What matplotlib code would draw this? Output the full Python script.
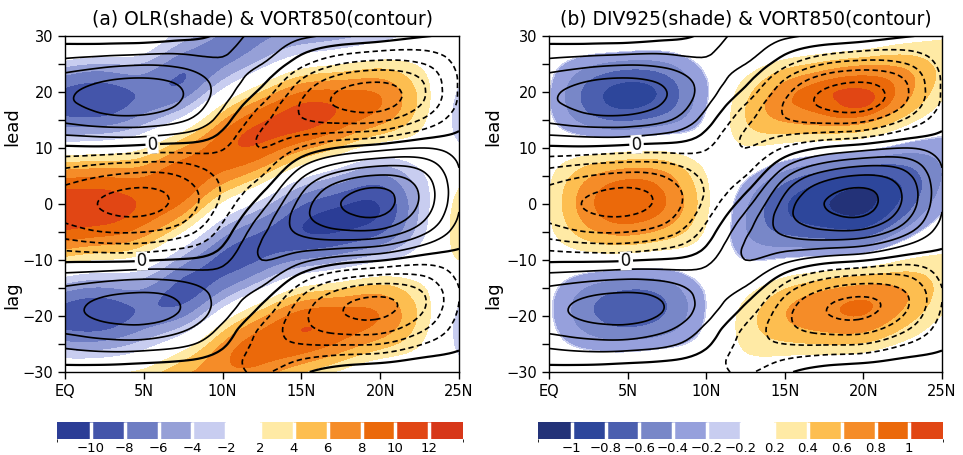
import numpy as np
import matplotlib
matplotlib.use('Agg')
import matplotlib.pyplot as plt
import matplotlib.tri as mtri
from matplotlib.colors import ListedColormap, BoundaryNorm
from matplotlib.cm import ScalarMappable

# grid: latitude (EQ..25N) and lag/lead days (-30..30)
lat = [0, 2.5, 5, 7.5, 10, 12.5, 15, 17.5, 20, 22.5, 25]
lag = [-30, -27.5, -25, -22.5, -20, -17.5, -15, -12.5, -10, -7.5, -5, -2.5, 0,
       2.5, 5, 7.5, 10, 12.5, 15, 17.5, 20, 22.5, 25, 27.5, 30]

# VORT850 anomaly x10 (rows: lag -30..30, cols: EQ..25N)
vort_x10 = [
    [-4, -5, -6, -7, -7, -11, -2, 5, 8, 9, 4],
    [4, 5, 4, 2, -4, -14, -11, -7, -5, 0, 2],
    [13, 16, 16, 12, 2, -14, -20, -21, -20, -11, -2],
    [22, 26, 27, 21, 7, -12, -26, -33, -33, -22, -5],
    [26, 32, 33, 28, 13, -6, -27, -39, -41, -30, -8],
    [26, 32, 34, 29, 16, 1, -23, -38, -42, -33, -10],
    [21, 25, 27, 24, 16, 9, -14, -29, -34, -29, -10],
    [11, 13, 15, 14, 13, 16, -1, -14, -19, -19, -7],
    [-2, -2, -1, 1, 7, 20, 13, 5, 1, -5, -4],
    [-14, -17, -17, -12, 0, 21, 24, 23, 20, 10, 1],
    [-25, -30, -30, -24, -6, 18, 32, 38, 37, 24, 5],
    [-32, -38, -39, -32, -12, 13, 36, 47, 49, 34, 9],
    [-34, -41, -43, -36, -17, 6, 34, 50, 53, 39, 11],
    [-32, -38, -41, -35, -19, -2, 28, 46, 51, 39, 12],
    [-25, -30, -33, -29, -18, -10, 18, 35, 41, 34, 11],
    [-15, -18, -20, -19, -15, -16, 5, 19, 25, 24, 9],
    [-2, -2, -4, -5, -9, -20, -9, 1, 6, 10, 5],
    [11, 13, 13, 9, -2, -21, -21, -18, -15, -6, 1],
    [22, 26, 26, 21, 5, -17, -29, -33, -32, -20, -4],
    [28, 33, 35, 28, 11, -11, -31, -41, -43, -30, -8],
    [28, 34, 36, 30, 15, -3, -27, -41, -44, -33, -9],
    [23, 28, 30, 26, 15, 4, -19, -33, -37, -30, -9],
    [14, 17, 19, 17, 12, 10, -7, -20, -24, -21, -7],
    [4, 5, 6, 7, 8, 14, 3, -5, -9, -10, -5],
    [-5, -6, -5, -3, 3, 14, 12, 8, 6, 1, -1],
]

# OLR anomaly x10 (rows: lag -30..30, cols: EQ..25N)
olr_x10 = [
    [12, 14, 26, 55, 74, 70, 42, 15, -9, -4, -9],
    [-22, -20, -3, 34, 74, 86, 72, 47, 21, 8, -19],
    [-55, -54, -33, 3, 61, 91, 93, 75, 50, 21, -27],
    [-80, -81, -60, -32, 35, 80, 100, 90, 71, 31, -30],
    [-89, -93, -76, -63, 0, 55, 89, 90, 79, 36, -28],
    [-79, -86, -76, -83, -36, 18, 61, 70, 70, 33, -19],
    [-52, -62, -60, -88, -66, -22, 22, 36, 47, 24, -7],
    [-13, -25, -32, -76, -83, -56, -22, -5, 12, 10, 7],
    [30, 18, 3, -51, -86, -79, -60, -46, -25, -5, 20],
    [68, 57, 38, -18, -74, -87, -87, -79, -59, -20, 29],
    [97, 88, 68, 18, -50, -81, -99, -100, -84, -32, 34],
    [113, 107, 88, 51, -19, -61, -96, -106, -98, -38, 34],
    [114, 111, 97, 76, 14, -32, -78, -98, -99, -40, 30],
    [100, 100, 93, 91, 46, 2, -50, -76, -87, -36, 21],
    [74, 77, 78, 94, 73, 38, -13, -44, -64, -27, 9],
    [38, 42, 51, 83, 89, 71, 28, -6, -32, -14, -4],
    [-4, 1, 17, 60, 93, 94, 66, 35, 4, 1, -16],
    [-44, -40, -19, 26, 82, 104, 95, 69, 40, 16, -27],
    [-75, -74, -50, -12, 57, 97, 108, 92, 67, 28, -32],
    [-90, -92, -71, -47, 23, 75, 102, 97, 80, 35, -31],
    [-86, -92, -77, -72, -14, 41, 79, 83, 77, 35, -25],
    [-65, -73, -66, -81, -45, 3, 44, 54, 58, 28, -14],
    [-32, -42, -44, -75, -65, -31, 5, 18, 29, 17, -1],
    [3, -6, -14, -56, -71, -54, -30, -18, -3, 3, 10],
    [0, -8, -12, -30, -64, -64, -55, -47, -32, -9, 19],
]

# DIV925 anomaly x100 (rows: lag -30..30, cols: EQ..25N)
div_x100 = [
    [2, 9, 14, 13, 4, 6, -3, -10, -10, -12, -10],
    [-2, -8, -9, -5, -2, 16, 16, 14, 9, -7, -14],
    [-7, -28, -34, -26, -8, 24, 36, 40, 37, 15, -5],
    [-12, -45, -57, -46, -14, 29, 52, 62, 63, 37, 6],
    [-15, -55, -71, -58, -18, 29, 59, 74, 79, 54, 19],
    [-15, -55, -72, -60, -19, 22, 54, 72, 81, 63, 28],
    [-12, -43, -58, -50, -16, 10, 38, 55, 65, 59, 33],
    [-6, -22, -31, -29, -9, -5, 13, 26, 36, 43, 31],
    [1, 4, 2, -1, 0, -19, -16, -10, -1, 19, 24],
    [8, 30, 37, 27, 8, -31, -43, -45, -40, -10, 13],
    [14, 53, 66, 52, 16, -39, -64, -73, -73, -37, -1],
    [18, 68, 87, 70, 22, -40, -76, -92, -96, -60, -15],
    [20, 74, 95, 79, 25, -37, -78, -98, -106, -75, -27],
    [19, 70, 91, 76, 24, -28, -69, -91, -102, -80, -36],
    [15, 56, 74, 64, 20, -15, -50, -71, -84, -73, -40],
    [9, 33, 45, 41, 13, 1, -23, -40, -52, -56, -38],
    [1, 4, 9, 11, 3, 17, 8, -1, -12, -30, -30],
    [-7, -25, -30, -21, -7, 31, 39, 38, 32, 2, -17],
    [-14, -51, -63, -50, -15, 39, 62, 71, 69, 34, -1],
    [-18, -66, -84, -68, -21, 39, 74, 90, 101, 59, 15],
    [-18, -68, -88, -73, -23, 32, 71, 95, 103, 71, 28],
    [-15, -57, -75, -64, -20, 20, 54, 74, 84, 69, 34],
    [-10, -36, -49, -43, -13, 4, 29, 45, 56, 54, 33],
    [-3, -11, -17, -17, -5, -10, 2, 11, 20, 31, 27],
    [3, 13, 14, 9, 3, -12, -14, -12, -8, 6, 17],
]

olr_bounds = [-12, -10, -8, -6, -4, -2, 2, 4, 6, 8, 10, 12, 14]
olr_ticks = [-10, -8, -6, -4, -2, 2, 4, 6, 8, 10, 12]
olr_ticklabels = ['\u221210', '\u22128', '\u22126', '\u22124', '\u22122', '2', '4', '6', '8', '10', '12']
olr_colors = ['#2b3d96', '#4455aa', '#6e7dc3', '#96a0d7', '#c8cdf0', '#ffffff',
              '#ffeaa5', '#fdbe50', '#f58c28', '#eb690a', '#e14614', '#d73719']
div_bounds = [-1.2, -1, -0.8, -0.6, -0.4, -0.2, -0.18, 0.2, 0.4, 0.6, 0.8, 1, 1.2]
div_ticks = [-1, -0.8, -0.6, -0.4, -0.2, -0.18, 0.2, 0.4, 0.6, 0.8, 1]
div_ticklabels = ['\u22121', '\u22120.8', '\u22120.6', '\u22120.4', '\u22120.2', '\u22120.2',
                  '0.2', '0.4', '0.6', '0.8', '1']
div_colors = ['#233278', '#2d469b', '#4b5faf', '#7887c8', '#96a0dc', '#c8cdf0', '#ffffff',
              '#ffeaa5', '#fdbe50', '#f58c28', '#eb690a', '#e14614']
vort_levels = [-6, -5, -4, -3, -2, -1, 0, 1, 2, 3, 4, 5, 6]
xticklabels = ['EQ', '5N', '10N', '15N', '20N', '25N']
titles = ['(a) OLR(shade) & VORT850(contour)', '(b) DIV925(shade) & VORT850(contour)']

vort = np.array(vort_x10) / 10.0
olr = np.array(olr_x10) / 10.0
div = np.array(div_x100) / 100.0

plt.rcParams['font.family'] = ['DejaVu Sans']

X, Y = np.meshgrid(lat, lag)
ny, nx = X.shape
tris = []
for j in range(ny - 1):
    for i in range(nx - 1):
        k = j * nx + i
        tris.append([k, k + 1, k + nx + 1])
        tris.append([k, k + nx + 1, k + nx])
tri = mtri.Triangulation(X.ravel(), Y.ravel(), np.array(tris))
refiner = mtri.UniformTriRefiner(tri)

fig = plt.figure(figsize=(9.63, 4.55), dpi=100)
axes = [fig.add_axes([65 / 963, 83 / 455, 394 / 963, 336 / 455]),
        fig.add_axes([549 / 963, 83 / 455, 393 / 963, 336 / 455])]
caxes = [fig.add_axes([57 / 963, 16 / 455, 406 / 963, 17 / 455]),
         fig.add_axes([538 / 963, 16 / 455, 405 / 963, 17 / 455])]

fields = [olr, div]
bounds = [olr_bounds, div_bounds]
cols = [olr_colors, div_colors]
ticks = [olr_ticks, div_ticks]
tlabels = [olr_ticklabels, div_ticklabels]

tr, v_r = refiner.refine_field(vort.ravel(), subdiv=3)
for n, ax in enumerate(axes):
    _, f_r = refiner.refine_field(fields[n].ravel(), subdiv=3)
    lv = [-100] + bounds[n][1:-1] + [100]
    ax.tricontourf(tr, f_r, levels=lv, colors=cols[n])
    neg = [l for l in vort_levels if l < 0]
    pos = [l for l in vort_levels if l > 0]
    ax.tricontour(tr, v_r, levels=neg, colors='k', linewidths=1.2, linestyles=[(0, (3.2, 2.0))])
    ax.tricontour(tr, v_r, levels=pos, colors='k', linewidths=1.2, linestyles='solid')
    c0 = ax.tricontour(tr, v_r, levels=[0], colors='k', linewidths=1.6)
    lbls = ax.clabel(c0, fmt={0: '0'}, manual=[(5.6, 9.0), (4.9, -11.0)], inline=True,
                     fontsize=12, inline_spacing=2)
    for t in lbls:
        t.set_bbox(dict(facecolor='white', edgecolor='none', pad=0.3))
    ax.set_xlim(0, 25)
    ax.set_ylim(-30, 30)
    ax.set_xticks([0, 5, 10, 15, 20, 25])
    ax.set_xticklabels(xticklabels)
    ax.set_yticks([-30, -20, -10, 0, 10, 20, 30])
    ax.set_yticks([-25, -15, -5, 5, 15, 25], minor=True)
    ax.tick_params(which='both', direction='out', length=5, width=1, labelsize=10.5)
    for s in ax.spines.values():
        s.set_linewidth(1.0)
    ax.set_title(titles[n], fontsize=13.5, pad=8)
    ax.text(-0.135 if n == 0 else -0.143, 0.729, 'lead', transform=ax.transAxes, rotation=90,
            ha='center', va='center', fontsize=13)
    ax.text(-0.135 if n == 0 else -0.143, 0.229, 'lag', transform=ax.transAxes, rotation=90,
            ha='center', va='center', fontsize=13)

    cmap = ListedColormap(cols[n])
    norm = BoundaryNorm(bounds[n], ncolors=len(cols[n]))
    cb = fig.colorbar(ScalarMappable(norm=norm, cmap=cmap), cax=caxes[n], orientation='horizontal',
                      spacing='uniform', ticks=ticks[n], drawedges=True)
    cb.outline.set_visible(False)
    cb.dividers.set_color('white')
    cb.dividers.set_linewidth(2.5)
    cb.set_ticklabels(tlabels[n])
    cb.ax.tick_params(length=0, labelsize=9.5, pad=2)

fig.savefig('out.png', dpi=100)
